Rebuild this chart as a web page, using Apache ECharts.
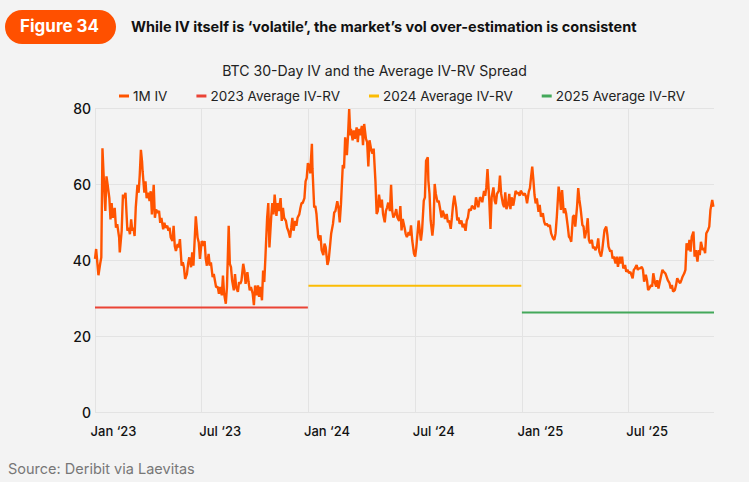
<!DOCTYPE html>
<html>
<head>
<meta charset="utf-8">
<script src="https://cdn.jsdelivr.net/npm/echarts@6/dist/echarts.min.js"></script>
<style>
  html,body{margin:0;padding:0;background:#f3f3f3;}
  #chart{width:749px;height:482px;}
</style>
</head>
<body>
<div id="chart"></div>
<script>
// ---------- DATA ----------
const figureLabel = 'Figure 34';
const headline = 'While IV itself is \u2018volatile\u2019, the market\u2019s vol over-estimation is consistent';
const chartTitle = 'BTC 30-Day IV and the Average IV-RV Spread';
const sourceText = 'Source: Deribit via Laevitas';
const seriesNames = ['1M IV', '2023 Average IV-RV', '2024 Average IV-RV', '2025 Average IV-RV'];

const startDate = '2023-01-01';   // day 0
const axisEndDate = '2025-11-25';

// 1M IV: [days since startDate, IV %]
const ivPoints = [
[0,40.3],[2,42.9],[4,39.4],[6,36],[9,39],[11,40.7],[13,69.4],[15,62.4],[18,52.9],[20,62],[22,59.8],[25,56.3],[27,50.7],[29,55],[31,51.1],[34,53.7],[36,48.5],[38,49.4],[41,45.9],[42,42],[45,47.7],[47,57.2],[49,56.3],[51,57.7],[54,47.7],[56,48.5],[58,46.8],[60,50.7],[62,47.7],[64,48.5],[66,46.3],[68,53.7],[71,59.8],[73,57.7],[75,62.4],[77,69],[79,65.9],[80,63.3],[83,57.7],[85,60.7],[87,56.3],[90,57.7],[92,55.5],[94,58.1],[96,52],[99,59.8],[101,51.1],[103,53.3],[106,52.4],[108,52.9],[110,49.8],[112,51.1],[115,48.1],[117,49.8],[119,48.5],[122,49],[124,47.7],[126,48.5],[128,45.9],[131,45],[133,49],[135,43.7],[137,42.4],[140,44.2],[142,43.3],[144,45.5],[147,38.5],[149,39.4],[151,38.1],[153,35],[156,36.3],[158,39],[160,40.7],[163,38.1],[165,42],[167,38.5],[169,45],[171,51.5],[174,45.9],[176,44.6],[178,40.3],[181,45],
[184,43.7],[186,45],[188,40.3],[190,38.5],[193,41.6],[195,38.5],[197,39.4],[200,35.5],[202,36.3],[204,34.6],[206,32.9],[209,32.9],[211,31.1],[213,32.9],[216,30.7],[218,35.9],[220,31.1],[223,28.5],[225,32.9],[228,49],[230,39],[232,38.1],[234,34.6],[237,32],[239,36.3],[241,32.9],[244,31.6],[246,34.2],[248,33.7],[250,34.6],[253,39],[255,37.2],[257,33.7],[260,36.8],[262,34.2],[264,32],[266,32.9],[269,31.1],[271,28.1],[273,33.3],[276,30.7],[278,33.3],[280,30.3],[282,32.9],[285,29.4],[287,37.2],[289,34.2],[291,40.7],[294,51.1],[296,55],[298,43.3],[301,51.1],[303,55],[305,52],[307,57.2],[310,51.6],[312,55],[314,52.9],[317,56.3],[319,50.3],[321,53.7],[323,51.1],[326,50.3],[328,48.5],[330,47.7],[333,45.9],[335,48.5],[337,51.1],[339,47.7],[342,50.3],[344,49],[346,51.1],[349,52],[351,53.7],[353,55],[355,55],[358,56.3],[360,60.7],[362,61.6],[364,65.5],[367,64.2],
[368,62.8],[371,70.6],[372,64.1],[375,53.8],[377,54.2],[379,52.1],[382,46],[384,45.2],[386,46.5],[388,42.6],[391,41.3],[393,44.3],[395,43.4],[398,38.7],[400,40],[402,43.4],[404,46.9],[407,49.5],[409,52.5],[411,52.9],[414,55.5],[416,53.8],[418,49.9],[420,54.7],[423,65],[425,64.1],[427,72.3],[430,67.6],[432,72.8],[434,79.7],[436,72.8],[437,74.5],[440,71.5],[442,74.1],[444,71.9],[447,74.9],[449,71],[451,74.5],[453,72.8],[456,75.3],[458,70.2],[460,75.8],[463,71.9],[465,71],[467,64.6],[469,71.5],[472,68.9],[474,68],[476,69.3],[479,60.7],[481,52.1],[483,52.9],[485,57.2],[488,53.8],[490,55.9],[492,52.1],[495,49.9],[497,52.9],[499,53.8],[501,55.1],[504,52.9],[506,59.8],[508,52.9],[510,51.2],[513,52.1],[515,53.4],[517,51.2],[520,50.3],[522,54.2],[524,47.8],[526,50.8],[529,48.6],[531,46.9],[533,46],[536,47.3],[538,46.5],[540,49.1],[542,45.2],[545,41.7],[547,40.9],[549,43.4],
[550,45.1],[553,50.4],[555,47.7],[557,45.1],[559,47.7],[562,55.6],[564,56.5],[566,66.1],[569,67],[570,60.9],[572,57.4],[574,50.4],[577,46.4],[579,49.5],[581,60],[583,57.4],[586,55.2],[588,55.6],[590,53.9],[593,51.2],[595,53],[597,52.1],[599,50.8],[602,52.1],[604,49.9],[606,50.4],[609,48.2],[611,51.2],[613,54.7],[615,56.9],[618,53.9],[620,50.4],[622,51.2],[624,49.5],[627,50.4],[629,48.6],[631,49.5],[634,47.7],[636,50.4],[638,51.2],[640,53.4],[643,53],[645,54.3],[647,53.9],[650,53.4],[652,56.5],[654,55.2],[656,53.9],[659,56.5],[661,56.1],[663,55.2],[666,58.2],[668,56.9],[670,59.1],[672,63.9],[675,55.6],[677,48.2],[679,56.5],[682,59.1],[684,55.6],[686,54.7],[688,57.4],[691,58.2],[693,62.2],[695,57.4],[698,54.7],[700,53.9],[702,57.8],[704,53.4],[707,54.7],[709,57.4],[711,53.4],[713,56.5],[716,54.3],[718,56.1],[720,58.2],[723,57.4],[725,57.8],[727,56.9],[729,58.2],[731,57.8],
[733,57.1],[736,57.5],[738,56.7],[740,54.9],[743,58],[745,58.9],[747,61.9],[749,64.6],[751,61.1],[753,57.1],[755,54.9],[757,56.2],[760,52.7],[762,54.5],[764,51.4],[767,52.3],[769,50.1],[771,49.2],[773,49.6],[776,48.8],[778,49.2],[780,47],[783,45.7],[785,45.3],[787,47],[789,51.4],[792,59.3],[794,57.1],[796,53.2],[798,58.4],[801,52.3],[803,53.6],[805,52.3],[808,48.8],[810,46.1],[812,45.7],[814,44.8],[817,51.4],[819,51.8],[821,48.8],[824,54],[826,58.9],[828,55.8],[830,53.6],[833,49.2],[835,48.8],[837,45.7],[840,47.9],[842,51],[844,45.3],[846,44.4],[849,45.3],[851,43.1],[853,43.5],[855,42.6],[858,43.5],[860,45.7],[862,42.2],[865,40.9],[867,42.6],[869,45.3],[871,47.9],[874,48.8],[876,46.6],[878,43.5],[881,42.2],[883,42.6],[885,40.4],[887,40.9],[890,39.1],[892,40.9],[894,38.2],[897,40.9],[899,39.1],[901,40.9],[903,37.8],[906,38.7],[908,36.9],[910,37.4],[913,36.5],[915,36.9],
[916,36.9],[919,35.2],[921,37.4],[923,37.8],[926,38.7],[928,37.4],[930,37.8],[932,37.8],[935,38.2],[937,37.4],[939,34.3],[942,36.1],[944,34.7],[946,32.1],[948,32.5],[951,33.4],[953,33],[955,36.5],[958,33.9],[960,33],[962,34.7],[964,32.5],[967,34.7],[969,36.1],[971,37.4],[973,36.9],[976,36.5],[978,35.6],[980,34.7],[983,33.9],[985,32.5],[987,33.4],[989,31.7],[992,32.1],[994,33.4],[996,35.2],[999,34.3],[1001,33.9],[1003,34.7],[1005,35.6],[1008,36.5],[1010,37.4],[1012,44.4],[1015,42.6],[1017,45.3],[1019,42.2],[1021,46.1],[1024,47.5],[1026,40.9],[1028,42.6],[1031,39.6],[1033,42.6],[1035,41.3],[1037,44.8],[1040,42.6],[1042,43.1],[1044,41.8],[1046,47],[1049,47.9],[1051,48.8],[1053,53.2],[1056,55.8],[1058,54]
];

// Yearly average IV-RV spread
const avgValues = [27.5, 33.2, 26.2];
const avgStart  = ['2023-01-01', '2024-01-01', '2025-01-01'];
const avgEnd    = ['2023-12-31', '2024-12-31', '2025-11-25'];

// Axis ticks
const yTicks = [0, 20, 40, 60, 80];
const monthNames = ['Jan','Feb','Mar','Apr','May','Jun','Jul','Aug','Sep','Oct','Nov','Dec'];

// ---------- HELPERS (date -> month-index scale) ----------
function tsToMonthIndex(ts) {
  const d = new Date(ts);
  const y = d.getUTCFullYear(), m = d.getUTCMonth();
  const dim = new Date(Date.UTC(y, m + 1, 0)).getUTCDate();
  return (y - 2023) * 12 + m + (d.getUTCDate() - 1) / dim;
}
function dateToMonthIndex(s) { return tsToMonthIndex(Date.parse(s + 'T00:00:00Z')); }
function dayToMonthIndex(day) { return tsToMonthIndex(Date.parse(startDate + 'T00:00:00Z') + day * 86400000); }

const colors = ['#ff5400', '#ea4335', '#fbbc04', '#43a85a'];
const FONT = 'Inter, Roboto, "Noto Sans", sans-serif';

const ivData = ivPoints.map(p => [dayToMonthIndex(p[0]), p[1]]);
const avgSeries = avgValues.map((v, i) => ({
  name: seriesNames[i + 1],
  type: 'line',
  data: [[dateToMonthIndex(avgStart[i]), v], [dateToMonthIndex(avgEnd[i]), v]],
  showSymbol: false,
  symbol: 'none',
  lineStyle: { color: colors[i + 1], width: 2 },
  itemStyle: { color: colors[i + 1] },
  z: 1
}));

const chart = echarts.init(document.getElementById('chart'), null, { renderer: 'svg' });
chart.setOption({
  backgroundColor: '#f3f3f3',
  animation: false,
  textStyle: { fontFamily: FONT },
  title: {
    text: chartTitle,
    left: 'center',
    top: 58,
    textStyle: { fontFamily: FONT, fontSize: 14.1, fontWeight: 'normal', color: '#222' }
  },
  legend: {
    data: seriesNames,
    left: 114,
    top: 84,
    icon: 'rect',
    itemWidth: 10,
    itemHeight: 3,
    itemGap: 29,
    textStyle: { fontFamily: FONT, fontSize: 13.5, color: '#222', padding: [0, 0, 0, -1] }
  },
  grid: { left: 95, right: 35, top: 108, bottom: 70 },
  xAxis: {
    type: 'value',
    min: 0,
    max: dateToMonthIndex(axisEndDate),
    interval: 6,
    axisLine: { show: false },
    axisTick: { show: false },
    splitLine: { show: true, showMaxLine: false, lineStyle: { color: '#e3e3e3', width: 1 } },
    axisLabel: {
      showMaxLabel: false,
      margin: 12,
      align: 'center',
      padding: [0, 0, 0, 37],
      fontFamily: FONT,
      fontSize: 13,
      fontWeight: 500,
      color: '#111',
      formatter: v => {
        if (Math.abs(v % 6) > 1e-6) return '';
        const yy = 23 + Math.floor(v / 12);
        return monthNames[Math.round(v) % 12] + ' \u2018' + yy;
      }
    }
  },
  yAxis: {
    type: 'value',
    min: yTicks[0],
    max: yTicks[yTicks.length - 1],
    interval: yTicks[1] - yTicks[0],
    axisLine: { show: false },
    axisTick: { show: false },
    splitLine: { lineStyle: { color: '#e3e3e3', width: 1 } },
    axisLabel: { margin: 4, fontFamily: FONT, fontSize: 14, fontWeight: 500, color: '#111' }
  },
  series: [
    {
      name: seriesNames[0],
      type: 'line',
      data: ivData,
      showSymbol: false,
      symbol: 'none',
      lineStyle: { color: colors[0], width: 2.4 },
      itemStyle: { color: colors[0] },
      z: 3
    },
    ...avgSeries
  ],
  graphic: [
    { type: 'rect', left: 5, top: 10, shape: { width: 111, height: 34, r: 17 }, style: { fill: '#ff5000' } },
    { type: 'text', left: 20, top: 17, style: { text: figureLabel, fill: '#fff', font: 'bold 17px ' + FONT } },
    { type: 'text', left: 131, top: 19, style: { text: headline, fill: '#111', font: 'bold 14.5px ' + FONT } },
    { type: 'text', left: 8, top: 461, style: { text: sourceText, fill: '#777', font: '14.5px ' + FONT } }
  ]
});
</script>
</body>
</html>
